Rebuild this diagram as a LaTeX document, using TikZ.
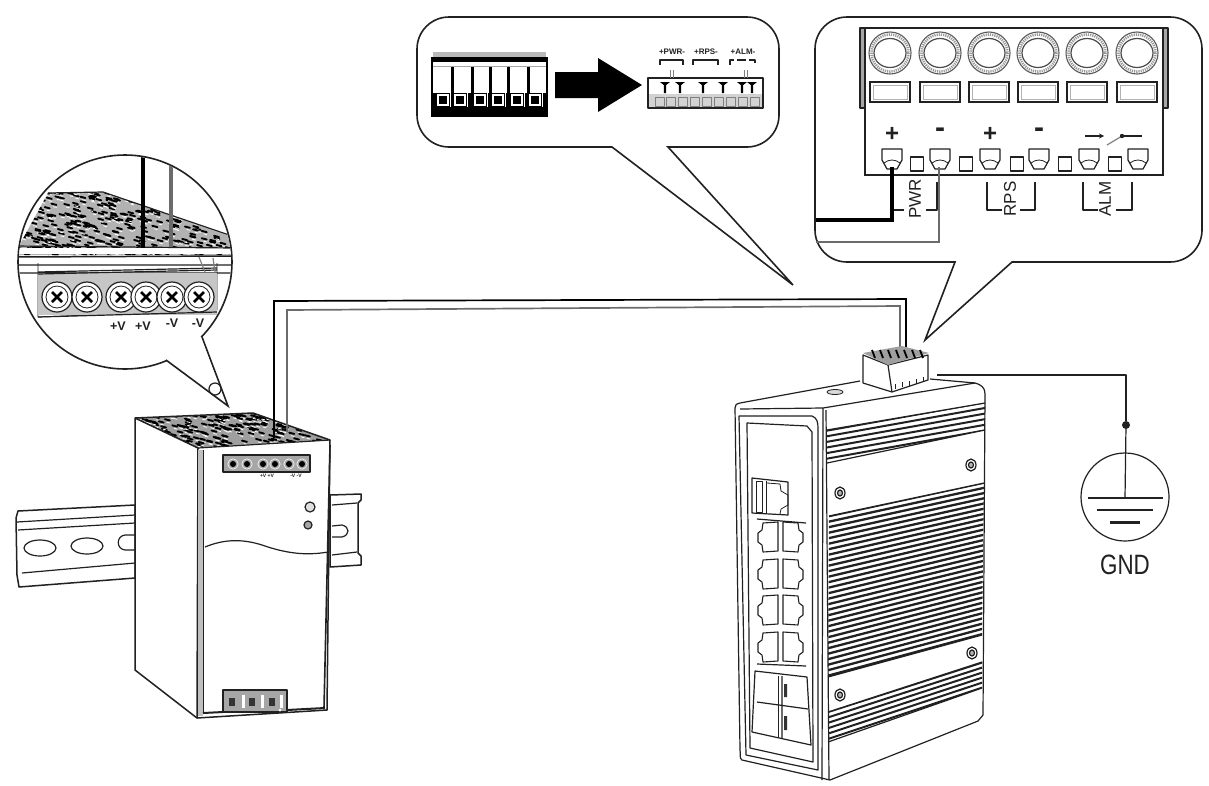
\documentclass[tikz,border=0pt]{standalone}
\usepackage{fontspec}
\setmainfont{Liberation Sans}
\usetikzlibrary{calc,arrows.meta}
\definecolor{ink}{gray}{0.13}
\definecolor{wiregray}{gray}{0.42}
\tikzset{
  ln/.style={draw=ink,line width=1.2pt,line join=round},
  thin ln/.style={draw=ink,line width=0.8pt,line join=round},
  bubble/.style={draw=ink,line width=1.6pt,fill=white,line join=miter},
  blackwire/.style={draw=black,line width=1.7pt},
  graywire/.style={draw=wiregray,line width=1.7pt},
  lab/.style={inner sep=0pt,text=ink,font=\bfseries\fontsize{12.5}{12.5}\selectfont},
  small lab/.style={inner sep=0pt,text=ink,font=\bfseries\fontsize{8}{8}\selectfont},
  tiny lab/.style={inner sep=0pt,text=ink,font=\bfseries\fontsize{5}{5}\selectfont},
  side lab/.style={inner sep=0pt,text=ink,rotate=90,font=\fontsize{17}{17}\selectfont},
  sign/.style={inner sep=0pt,text=ink,font=\bfseries\fontsize{24}{24}\selectfont},
  dashsign/.style={inner sep=0pt,text=ink,font=\bfseries\fontsize{30}{30}\selectfont},
}
\newcommand{\grain}[5]{%
  \pgfmathsetseed{7}%
  \foreach \gi in {1,...,#5}{%
    \pgfmathsetmacro{\gx}{#1+rnd*#3}%
    \pgfmathsetmacro{\gy}{#2+rnd*#4}%
    \draw[black,line width=1.9pt,line cap=round] (\gx,\gy) -- ++(5,1.3);
    \draw[white,line width=0.8pt,line cap=round] (\gx+2,\gy+3) -- ++(3,0.8);
  }}
\newcommand{\rjport}[3]{%
  \draw[draw=ink,line width=1.1pt,line join=round] (#1-10*#3,#2-15) -- (#1+5*#3,#2-14) -- (#1+6*#3,#2-7) -- (#1+10*#3,#2-4)
     -- (#1+10*#3,#2+5) -- (#1+6*#3,#2+8) -- (#1+5*#3,#2+15) -- (#1-10*#3,#2+14) -- cycle;}
\newcommand{\lug}[2]{%
  \draw[ln] (#1-10,#2) -- (#1+10,#2) -- (#1+10,#2+11) -- (#1+5,#2+20) -- (#1-5,#2+20) -- (#1-10,#2+11) -- cycle;
  \draw[thin ln] (#1-8,#2+14) .. controls (#1-3,#2+10) and (#1+3,#2+10) .. (#1+8,#2+14);}
\newcommand{\screwhead}[2]{%
  \draw[ln,fill=white] (#1,#2) circle (15);
  \draw[thin ln] (#1,#2) circle (11);
  \draw[black,line width=2.8pt] (#1-5,#2-5) -- (#1+5,#2+5) (#1-5,#2+5) -- (#1+5,#2-5);}
\begin{document}
\begin{tikzpicture}[x=1pt,y=-1pt]
\useasboundingbox (0,0) rectangle (1209,785);
\fill[white] (0,0) rectangle (1209,785);

%---------------- upper right callout
\draw[bubble,rounded corners=32pt] (815,17) -- (1202,17) -- (1202,262) -- (1050,262) [sharp corners] -- (1012,262) -- (925,340) -- (955,262) -- (920,262) [rounded corners=32pt] -- (815,262) -- cycle;
\fill[gray!70] (860,28) rectangle (865,108) (1163,28) rectangle (1168,108);
\draw[ln] (860,28) rectangle (865,108) (1163,28) rectangle (1168,108);
\draw[draw=ink,line width=1.6pt] (865,28) rectangle (1163,175);
\foreach \cx in {890,940,989,1038,1087,1137}{
  \draw[draw=black!65,line width=1.1pt] (\cx,53) circle (21);
  \draw[draw=gray!80,line width=2.6pt,dash pattern=on 1.2pt off 1pt] (\cx,53) circle (18.5);
  \draw[draw=black!70,line width=1.2pt] (\cx,53) ellipse (16 and 14.5);
  \draw[draw=ink,line width=2pt] (\cx-20,82) rectangle (\cx+20,102);
  \draw[draw=gray!60,line width=0.8pt] (\cx-17,85) rectangle (\cx+17,99);
}
\node[sign] (plusA) at (892,134) {+};
\node[dashsign] (minusA) at (940,133) {-};
\node[sign] (plusB) at (990,134) {+};
\node[dashsign] (minusB) at (1039,133) {-};
\draw[ln,-{Stealth[length=5pt,width=5pt]}] (1085,136) -- (1104,136);
\draw[ln,gray] (1107,145) -- (1122,136);
\fill[ink] (1122,136) circle (2.2);
\draw[ln] (1122,136) -- (1142,136);
\foreach \cx in {892,940,990,1039,1089,1138}{\lug{\cx}{149}}
\foreach \cx in {917,966,1017,1065,1115}{\draw[ln,line width=1.5pt] (\cx-6.5,157) rectangle (\cx+6.5,171);}
\draw[ln] (892,210) -- (904,210) (926,210) -- (937,210) -- (937,182);
\draw[ln] (987,182) -- (987,210) -- (1002,210) (1020,210) -- (1035,210) -- (1035,182);
\draw[ln] (1083,182) -- (1083,210) -- (1098,210) (1116,210) -- (1132,210) -- (1132,182);
\node[side lab] (pwrlab) at (915,199) {PWR};
\node[side lab] (rpslab) at (1010,199) {RPS};
\node[side lab] (alm) at (1105,199) {ALM};
\coordinate (wb0) at (892,167);
\coordinate (wb1) at (815.5,220);
\coordinate (wg0) at (939,167);
\coordinate (wg1) at (815.5,242);
\draw[draw=black,line width=3.6pt] (wb0) |- (wb1);
\draw[draw=wiregray,line width=2.2pt] (wg0) |- (wg1);

%---------------- upper middle callout
\draw[bubble,rounded corners=32pt] (417,17) -- (779,17) -- (779,147) -- (710,147) [sharp corners] -- (668,147) -- (793,285) -- (612,147) -- (570,147) [rounded corners=32pt] -- (417,147) -- cycle;
\fill[gray!55] (433,52) rectangle (546,58);
\fill[black] (431,57) rectangle (548,117);
\fill[white] (433,62) rectangle (546,93);
\draw[gray!70,line width=0.8pt] (433,66) -- (546,66);
\foreach \wx in {452,472,490,508,528}{\fill[black] (\wx-1.5,67) rectangle (\wx+1.5,93);}
\foreach \wx in {443,460,480,498,517,535}{
  \draw[white,line width=1.6pt] (\wx-5,95) rectangle ++(10,10);
  \fill[white] (\wx+7,93) rectangle ++(1.2,14);}
\path[fill=black] (555,72) -- (598,72) -- (598,58) -- (642,85) -- (598,112) -- (598,98) -- (555,98) -- cycle;
\fill[white] (648,78) rectangle (763,108);
\fill[gray!35] (648,94) rectangle (763,108);
\draw[ln] (648,78) rectangle (763,108);
\foreach \tx in {665,680,703,723,742,752}{\fill[black] (\tx-5,82) -- (\tx+5,82) -- (\tx+1.2,85) -- (\tx+1.2,93) -- (\tx-1.2,93) -- (\tx-1.2,85) -- cycle;}
\foreach \tx in {657,668,680,692,704,716,728,740,752}{\draw[thin ln,gray] (\tx-2,97) rectangle ++(9,9);}
\node[small lab] (pwrsmall) at (672,52) {+PWR-};
\node[small lab] (rpssmall) at (706,52) {+RPS-};
\node[small lab] (almsmall) at (743,52) {+ALM-};
\draw[ln] (660,65) -- (660,60) -- (683,60) -- (683,65);
\draw[ln] (693,65) -- (693,60) -- (718,60) -- (718,65);
\draw[ln,dash pattern=on 9pt off 3pt] (730,65) -- (730,60) -- (755,60) -- (755,65);
\draw[thin ln,gray] (670,70) -- (670,78) (673,70) -- (673,78) (744,70) -- (744,78) (747,70) -- (747,78);

%---------------- DIN rail behind the power supply
\draw[ln,fill=white,line width=1.5pt] (135,505) -- (18,511) -- (16,518) -- (17,575) -- (19,587) -- (135,578) -- cycle;
\draw[ln] (17,522) -- (135,515) (18,530) -- (135,523) (22,573) -- (135,563);
\draw[ln] (40,548) ellipse (16 and 8);
\draw[ln] (87,546) ellipse (16 and 8);
\draw[ln] (135,535) -- (125,535) .. controls (116,536) and (116,549) .. (125,550) -- (135,550);
\draw[ln,fill=white,line width=1.5pt] (330,495) -- (361,494) -- (361,500) -- (358,503) -- (358,553) -- (361,556) -- (361,565) -- (330,567) -- cycle;
\draw[ln] (332,505) -- (357,503) (332,555) -- (357,552);
\draw[ln] (332,526) -- (342,525) .. controls (350,527) and (350,535) .. (342,537) -- (332,537);

%---------------- power supply
\path[fill=white] (135,418) -- (253,413) -- (330,440) -- (327,710) -- (197,718) -- (135,670) -- cycle;
\begin{scope}
  \clip (135,418) -- (253,413) -- (330,440) -- (198,448) -- cycle;
  \fill[gray!75] (130,410) rectangle (335,450);
  \grain{130}{410}{205}{40}{300}
\end{scope}
\draw[ln,line width=1.5pt] (135,418) -- (253,413) -- (330,440) -- (327,710) -- (197,718) -- (135,670) -- cycle;
\draw[ln,line width=1.5pt] (135,418) -- (198,448) -- (197,718);
\draw[ln] (198,448) -- (330,440);
\draw[ln,line width=1.6pt] (203,450) -- (203,713) (330,445) -- (324,708);
\fill[gray!50] (198,450) rectangle (203,716);
\draw[ln] (205,547) .. controls (222,540) and (240,538) .. (262,545) .. controls (285,553) and (305,556) .. (328,552);
\begin{scope}
  \clip (223,455) rectangle (310,472);
  \fill[gray!70] (223,455) rectangle (310,472);
  \foreach \sx in {233,247,263,275,289,302}{\fill[black] (\sx,464) circle (3);\draw[white,line width=0.6pt] (\sx,464) circle (5.2);}
\end{scope}
\draw[ln] (223,455) rectangle (310,472);
\node[tiny lab] (tvA) at (267,476) {+V +V};
\node[tiny lab] (tvB) at (296,476) {-V -V};
\draw[ln,fill=gray!25] (310,507) circle (5);
\draw[ln,fill=gray!70] (308,525) circle (4);
\fill[gray!70] (223,690) rectangle (287,712);
\draw[ln] (223,690) rectangle (287,712);
\foreach \sx in {243,262,281}{\fill[white] (\sx-1,695) rectangle (\sx+1.5,708);}
\foreach \sx in {232,252,272}{\fill[black!80] (\sx-3,698) rectangle (\sx+3,706);}
\draw[draw=ink,line width=2pt] (203,713) -- (223,712) (287,710) -- (325,708);
\fill[white] (280,710) circle (1.5);

%---------------- cable between supply and switch
\coordinate (psuOut) at (274,438);
\coordinate (psuIn) at (287,432);
\coordinate (swOut) at (906,357);
\coordinate (swIn) at (900,355);
\coordinate (c1) at (274,301);
\coordinate (c2) at (906,299);
\coordinate (c3) at (287,310);
\coordinate (c4) at (900,306);
\draw[blackwire] (psuOut) -- (c1) -- (c2) -- (swOut);
\draw[graywire] (psuIn) -- (c3) -- (c4) -- (swIn);

%---------------- magnifier over the supply terminals
\draw[bubble] (125,262) circle (107);
\draw[bubble] (166,360) -- (228,406) -- (202,337);
\fill[white] (168,357) -- (224,400) -- (200,335) -- cycle;
\draw[ln] (215,389) circle (6);
\begin{scope}
  \clip (125,262) circle (106);
  \begin{scope}
    \clip (14,255) -- (48,193) -- (103,192) -- (235,238) -- (235,255) -- cycle;
    \fill[gray!60] (14,190) rectangle (235,258);
    \grain{14}{188}{220}{68}{420}
  \end{scope}
  \draw[ln] (48,193) -- (103,192) -- (235,237);
  \fill[white] (14,248) rectangle (235,254);
  \draw[ln] (14,246) -- (235,248);
  \draw[draw=ink,line width=1.5pt] (14,257) -- (235,256);
  \draw[ln] (14,265) -- (235,265) (14,273) -- (235,273) (38,272) -- (217,268);
  \draw[thin ln] (38,263) -- (38,317) -- (217,310) -- (217,263);
  \fill[gray!45] (38,273) rectangle (217,315);
  \draw[ln] (38,317) -- (217,312) (38,274) -- (217,270);
  \draw[ln,gray] (199,257) -- (205,272) (213,258) -- (215,272);
  \foreach \sx in {57,87,121,146,172,199}{\screwhead{\sx}{297}}
  \draw[draw=black,line width=4pt] (143,150) -- (143,248);
  \draw[draw=wiregray,line width=4pt] (171,150) -- (171,247);
\end{scope}
\node[lab] (vA) at (118,326) {+V};
\node[lab] (vB) at (143,326) {+V};
\node[lab] (vC) at (172,323) {-V};
\node[lab] (vD) at (198,323) {-V};

%---------------- switch body
\path[fill=white] (737,403) -- (863,382) -- (978,383) -- (985,392) -- (983,717) -- (830,780) -- (742,760) -- cycle;
\draw[ln] (735,408) .. controls (735,405) and (736,404) .. (740,403) -- (860,381);
\draw[ln] (930,379) -- (975,383) .. controls (982,385) and (985,388) .. (985,394) -- (983,715) -- (978,721) -- (830,780) -- (742,760) .. controls (739,758) and (741,755) .. (740,750) -- (735,408);
\draw[ln] (740,409) -- (823,408) -- (975,383);
\draw[ln] (823,408) -- (822,780);
\draw[ln] (739,416) -- (812,416) .. controls (817,418) and (818,422) .. (818,428) -- (818,770) -- (746,755) -- cycle;
\draw[ln] (747,423) -- (807,426) -- (812,432) -- (813,762) -- (750,748) -- cycle;
\draw[ln] (826,410) -- (829,780);
\draw[thin ln,fill=gray!30] (835,392) ellipse (8 and 2.5);
\draw[ln,fill=white] (863,355) -- (888,365) -- (928,355) -- (928,380) -- (892,392) -- (863,383) -- cycle;
\draw[ln] (888,365) -- (892,392);
\fill[gray!75] (863,353) -- (902,346) -- (929,353) -- (888,365) -- cycle;
\foreach \tx in {872,880,888,896,904,912,920}{\draw[black,line width=1.8pt] (\tx,350) -- (\tx+3,358);}
\foreach \tx in {895,902,909,916,923}{\draw[thin ln] (\tx,{389-(\tx-895)*0.25}) -- ++(0,-5);}
\begin{scope}
  \clip (827,430) -- (985,403) -- (985,430) -- (827,463) -- cycle;
  \foreach \sn in {0,...,6}{\draw[draw=ink,line width=2pt] (825,{431+\sn*5.6}) -- (987,{402+\sn*5.6});}
\end{scope}
\begin{scope}
  \clip (829,516) -- (984,483) -- (982,635) -- (828,677) -- cycle;
  \foreach \sn in {0,...,30}{\draw[draw=ink,line width=2.3pt] (825,{517+\sn*5.5}) -- (987,{482+\sn*5.2});}
\end{scope}
\begin{scope}
  \clip (828,712) -- (982,662) -- (982,688) -- (828,742) -- cycle;
  \foreach \sn in {0,...,6}{\draw[draw=ink,line width=2pt] (825,{713+\sn*5.4}) -- (987,{661+\sn*5});}
\end{scope}
\draw[ln] (827,430) -- (985,403) (827,463) -- (985,430) (829,516) -- (984,483) (828,677) -- (982,635) (828,712) -- (982,662) (828,742) -- (982,688);
\foreach \px/\py in {840/493,971/465,840/695,972/653}{
  \draw[ln,fill=white] (\px,\py) ellipse (5 and 6);
  \draw[ln,fill=gray!60] (\px,\py) ellipse (2.5 and 3);}
\draw[ln] (752,478) -- (788,482) -- (788,515) -- (752,513) -- cycle;
\draw[thin ln] (756,481) rectangle (762,512) (766,481) -- (766,514);
\draw[thin ln] (767,483) -- (780,484) -- (781,491) -- (788,495) -- (788,505) -- (781,509) -- (780,514);
\draw[ln] (757,519) -- (806,523) (806,666) -- (757,664);
\foreach \ry in {537,574,610,647}{\rjport{768}{\ry}{-1}\rjport{793}{\ry}{1}}
\draw[ln] (755,671) -- (807,677) -- (811,745) -- (752,732) -- cycle;
\draw[ln] (782,676) -- (782,738) (757,702) -- (808,709);
\draw[thin ln] (778,676) -- (778,738);
\fill[black!80] (784,684) rectangle (787,697) (784,716) rectangle (787,730);

%---------------- earth connection
\coordinate (gndFrom) at (937,375);
\coordinate (gndTurn) at (1126,375);
\node[circle,fill=ink,inner sep=0pt,minimum size=8pt] (gndDot) at (1126,425) {};
\draw[ln] (gndFrom) -- (gndTurn) -- (gndDot);
\node[circle,draw=ink,line width=1.2pt,minimum size=88pt,inner sep=0pt] (gndSym) at (1125,497) {};
\draw[ln] (gndDot) -- (1125,498);
\draw[ln] (1088,498) -- (1163,498);
\draw[ln] (1097,510) -- (1153,510);
\draw[draw=ink,line width=3pt] (1110,522) -- (1140,522);
\node[inner sep=0pt,text=ink,font=\fontsize{28}{28}\selectfont,xscale=0.8] (gndText) at (1125,565) {GND};
\end{tikzpicture}
\end{document}
